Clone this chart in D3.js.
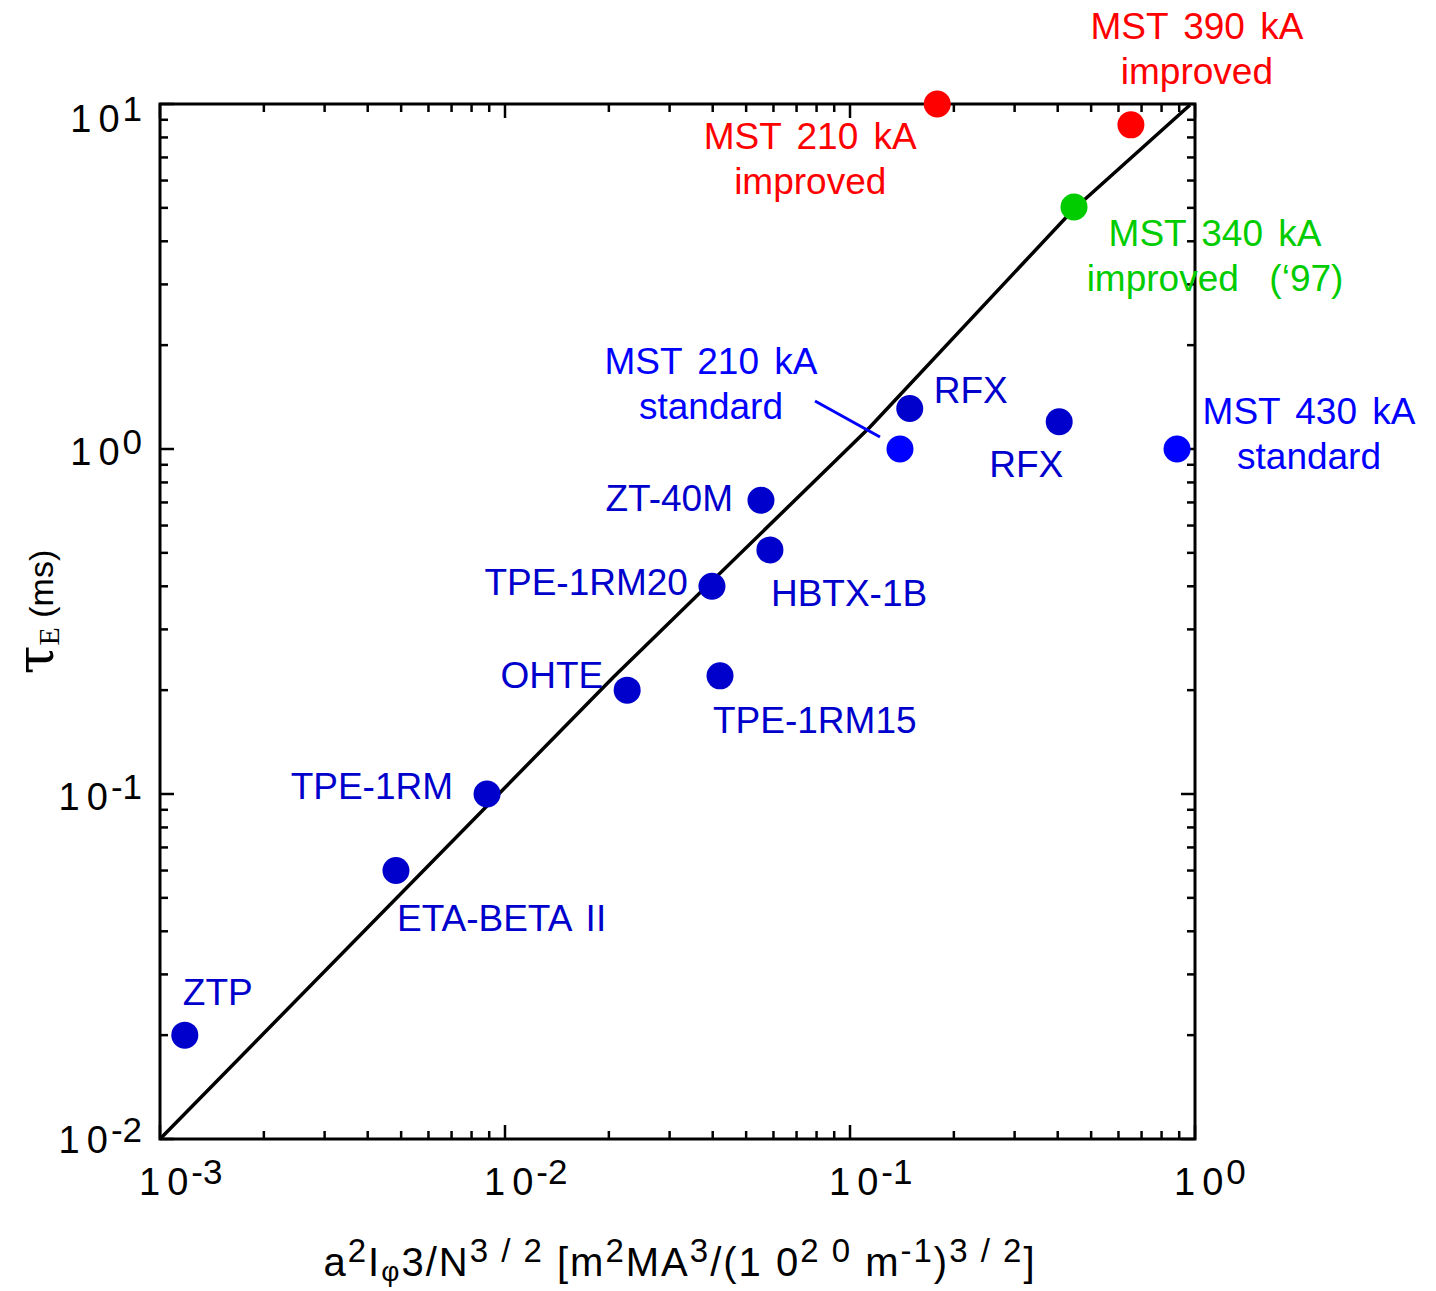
<!DOCTYPE html>
<html>
<head>
<meta charset="utf-8">
<script src="https://cdn.jsdelivr.net/npm/d3@7"></script>
<style>
    body { margin: 0; background: #fff; }
    text { font-family: "Liberation Sans", Arial, sans-serif; }
</style>
</head>
<body>
<div id="chart"></div>
<script>
var width = 1436, height = 1291;
var frame = { left: 160, top: 104, right: 1195, bottom: 1139 };

// confinement data, one entry per machine
var machines = ["ZTP", "ETA-BETA II", "TPE-1RM", "OHTE", "TPE-1RM15", "TPE-1RM20", "HBTX-1B", "ZT-40M",
    "MST 210 kA standard", "RFX", "RFX", "MST 430 kA standard",
    "MST 340 kA improved", "MST 210 kA improved", "MST 390 kA improved"];
var scalingX = [0.00118, 0.00483, 0.00887, 0.0226, 0.042, 0.0398, 0.0586, 0.0552,
    0.1396, 0.149, 0.404, 0.887, 0.446, 0.179, 0.652];
var tauE = [0.02, 0.06, 0.1, 0.2, 0.22, 0.40, 0.51, 0.71,
    1.0, 1.31, 1.2, 1.0, 5.03, 10.0, 8.7];
var groups = ["other", "other", "other", "other", "other", "other", "other", "other",
    "standard", "other", "other", "standard", "improved97", "improved", "improved"];

// fit line
var fitX = [0.001, 0.0206, 0.1143, 0.443, 0.967];
var fitY = [0.01, 0.218, 1.158, 4.93, 9.93];

// tick decades
var xTickExp = [-3, -2, -1, 0];
var yTickExp = [-2, -1, 0, 1];

// label text lines
var labelLines = [["ZTP"], ["ETA-BETA II"], ["TPE-1RM"], ["OHTE"], ["TPE-1RM15"], ["TPE-1RM20"], ["HBTX-1B"], ["ZT-40M"],
    ["MST 210 kA", "standard"], ["RFX"], ["RFX"], ["MST 430 kA", "standard"],
    ["MST 340 kA", "improved  (\u201897)"], ["MST 210 kA", "improved"], ["MST 390 kA", "improved"]];

// label placement relative to the dot (px)
var labelDx = [-2, 1, -34, -24, -7, -24, 1, -28, -189, 24, -70, 132, 141, -127, 66];
var labelDy = [-30, 60, 5, -2, 57, 9, 56, 11, -75, -6, 55, -25, 39, 45, -86];
var labelAnchor = ["start", "start", "end", "end", "start", "end", "start", "end",
    "middle", "start", "start", "middle", "middle", "middle", "middle"];

var colors = { other: "#0000cc", standard: "#0000ff", improved: "#ff0000", improved97: "#00cc00" };
var dotRadius = 13.5;
var labelSize = 37;

var svg = d3.select("#chart")
    .append("svg")
    .attr("width", width)
    .attr("height", height);

var x = d3.scaleLog().domain([1e-3, 1]).range([frame.left, frame.right]);
var y = d3.scaleLog().domain([1e-2, 10]).range([frame.bottom, frame.top]);

// minor + major ticks on all four sides, pointing inward
var ticks = svg.append("g").attr("stroke", "#000").attr("stroke-width", 2.5);
function tickValues(exps) {
    var out = [];
    exps.forEach(function (e, i) {
        out.push({ v: Math.pow(10, e), major: true });
        if (i < exps.length - 1) {
            for (var k = 2; k < 10; k++) out.push({ v: k * Math.pow(10, e), major: false });
        }
    });
    return out;
}
tickValues(xTickExp).forEach(function (t) {
    var len = t.major ? 14 : 8;
    var px = x(t.v);
    ticks.append("line").attr("x1", px).attr("x2", px).attr("y1", frame.bottom).attr("y2", frame.bottom - len);
    ticks.append("line").attr("x1", px).attr("x2", px).attr("y1", frame.top).attr("y2", frame.top + len);
});
tickValues(yTickExp).forEach(function (t) {
    var len = t.major ? 14 : 8;
    var py = y(t.v);
    ticks.append("line").attr("y1", py).attr("y2", py).attr("x1", frame.left).attr("x2", frame.left + len);
    ticks.append("line").attr("y1", py).attr("y2", py).attr("x1", frame.right).attr("x2", frame.right - len);
});

// frame
svg.append("rect")
    .attr("x", frame.left)
    .attr("y", frame.top)
    .attr("width", frame.right - frame.left)
    .attr("height", frame.bottom - frame.top)
    .attr("fill", "none")
    .attr("stroke", "#000")
    .attr("stroke-width", 3);

// power of ten labels
function powerLabel(sel, exp) {
    sel.append("tspan").text("1");
    sel.append("tspan").attr("dx", 7).text("0");
    sel.append("tspan")
        .attr("dx", 3)
        .attr("dy", -11)
        .attr("font-size", 35)
        .text(exp);
}
xTickExp.forEach(function (e) {
    var t = svg.append("text")
        .attr("x", x(Math.pow(10, e)) - 21)
        .attr("y", 1195)
        .attr("font-size", 38)
        .attr("fill", "#000");
    powerLabel(t, e);
});
var yLabelShift = [14, 16, 16, 28];
yTickExp.forEach(function (e, i) {
    var t = svg.append("text")
        .attr("x", 142)
        .attr("y", y(Math.pow(10, e)) + yLabelShift[i])
        .attr("text-anchor", "end")
        .attr("font-size", 38)
        .attr("fill", "#000");
    powerLabel(t, e);
});

// fit line
var fitData = fitX.map(function (v, i) { return [v, fitY[i]]; });
svg.append("path")
    .datum(fitData)
    .attr("fill", "none")
    .attr("stroke", "#000")
    .attr("stroke-width", 3.5)
    .attr("d", d3.line()
        .x(function (d) { return x(d[0]); })
        .y(function (d) { return y(d[1]); }));

var data = machines.map(function (m, i) {
    return { name: m, x: scalingX[i], y: tauE[i], group: groups[i], lines: labelLines[i],
        dx: labelDx[i], dy: labelDy[i], anchor: labelAnchor[i] };
});

// leader line for MST 210 kA standard
var std210 = data[8];
svg.append("line")
    .attr("x1", x(std210.x) - 85)
    .attr("y1", y(std210.y) - 48)
    .attr("x2", x(std210.x) - 20)
    .attr("y2", y(std210.y) - 12)
    .attr("stroke", colors.standard)
    .attr("stroke-width", 3);

// dots
svg.append("g")
    .selectAll("circle")
    .data(data)
    .join("circle")
    .attr("cx", function (d) { return x(d.x); })
    .attr("cy", function (d) { return y(d.y); })
    .attr("r", dotRadius)
    .attr("fill", function (d) { return colors[d.group]; });

// labels
data.forEach(function (d) {
    var t = svg.append("text")
        .attr("x", x(d.x) + d.dx)
        .attr("y", y(d.y) + d.dy)
        .attr("text-anchor", d.anchor)
        .attr("font-size", labelSize)
        .attr("word-spacing", 5)
        .attr("fill", colors[d.group])
        .style("white-space", "pre");
    d.lines.forEach(function (line, j) {
        t.append("tspan")
            .attr("x", x(d.x) + d.dx)
            .attr("dy", j == 0 ? 0 : 45)
            .text(line);
    });
});

// x axis title
var xTitleParts = [
    ["a", "n"], ["2", "sup"], ["I", "n"], ["\u03c6", "sub"], ["3/N", "n"], ["3 / 2", "sup"],
    [" [m", "n"], ["2", "sup"], ["MA", "n"], ["3", "sup"], ["/(1 0", "n"], ["2 0", "sup"],
    [" m", "n"], ["-1", "sup"], [")", "n"], ["3 / 2", "sup"], ["]", "n"]
];
var xTitle = svg.append("text")
    .attr("x", 680)
    .attr("y", 1276)
    .attr("text-anchor", "middle")
    .attr("font-size", 40)
    .attr("letter-spacing", 2)
    .attr("fill", "#000")
    .style("white-space", "pre");
var shift = 0;
xTitleParts.forEach(function (p) {
    var target = p[1] == "sup" ? -14 : (p[1] == "sub" ? 5 : 0);
    xTitle.append("tspan")
        .attr("dy", target - shift)
        .attr("font-size", p[1] == "n" ? 40 : (p[1] == "sup" ? 33 : 28))
        .text(p[0]);
    shift = target;
});

// y axis title
var yTitle = svg.append("text")
    .attr("transform", "translate(53, 612) rotate(-90)")
    .attr("text-anchor", "middle")
    .attr("fill", "#000");
yTitle.append("tspan")
    .attr("font-family", "DejaVu Serif, serif")
    .attr("font-size", 52)
    .text("\u03c4");
yTitle.append("tspan")
    .attr("font-family", "Liberation Serif, serif")
    .attr("font-size", 30)
    .attr("dy", 6)
    .text("E");
yTitle.append("tspan")
    .attr("font-size", 34)
    .attr("dy", -6)
    .style("white-space", "pre")
    .text(" (ms)");
</script>
</body>
</html>
